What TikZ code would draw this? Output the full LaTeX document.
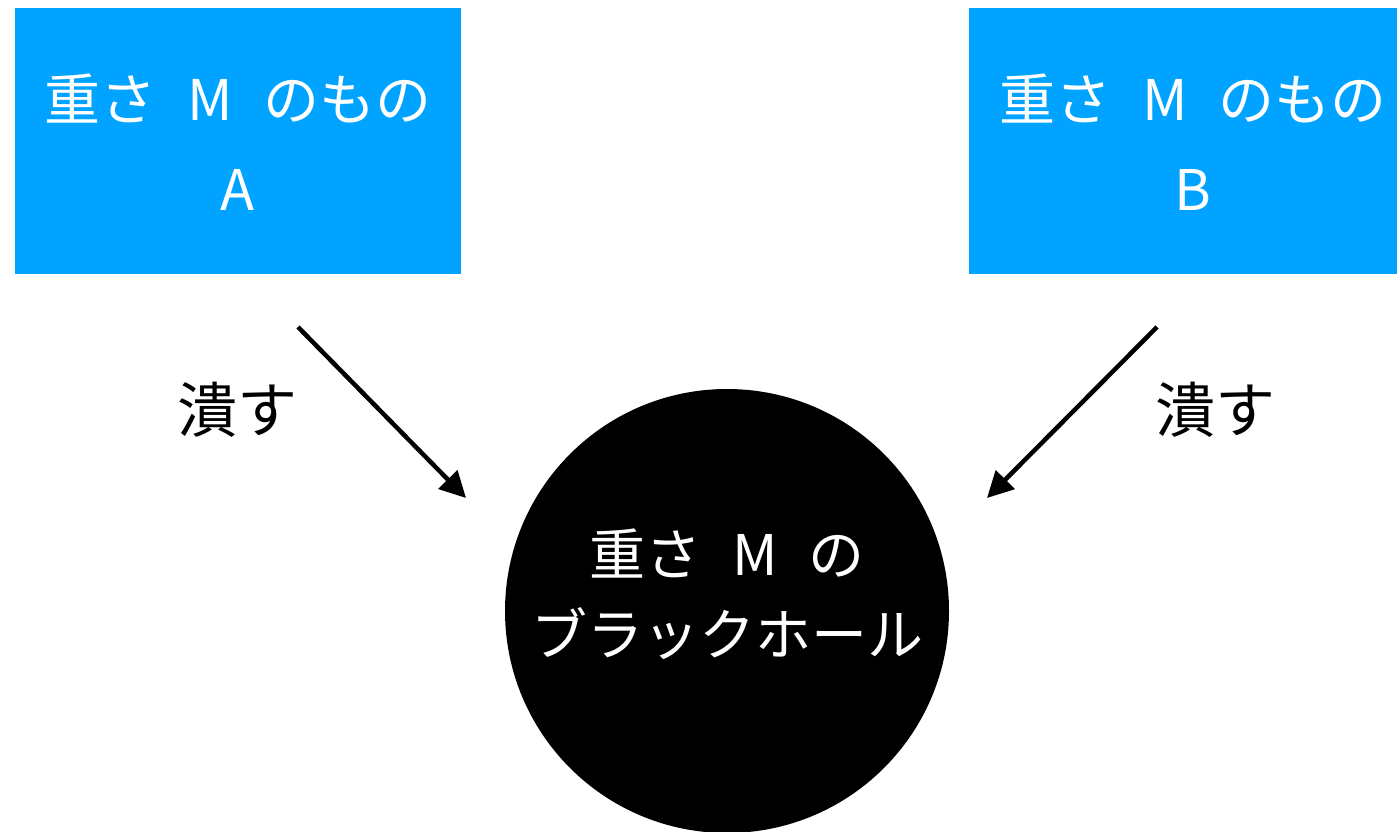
\documentclass[tikz,border=0pt]{standalone}
\usepackage{fontspec}
\setmainfont{Noto Sans CJK JP}
\usetikzlibrary{arrows.meta}
\definecolor{boxblue}{HTML}{00A3FF}
\newcommand{\wsp}{\hspace{0.55em}}
\tikzset{
  massbox/.style={fill=boxblue, draw=none, minimum width=446pt, minimum height=266pt, inner sep=0pt},
  boxtext/.style={text=white, align=center, font=\fontsize{56}{90}\selectfont},
  bhtext/.style={text=white, align=center, font=\fontsize{56}{80}\selectfont},
  crushlabel/.style={text=black, font=\fontsize{60}{70}\selectfont},
  crusharrow/.style={line width=4.5pt, -{Triangle[length=26pt,width=26pt]}},
}
\begin{document}
\begin{tikzpicture}[x=1pt,y=-1pt]
\useasboundingbox (0,0) rectangle (1397,832);
\node[massbox] (A) at (238,141) {};
\node[massbox, minimum width=428pt] (B) at (1183,141) {};
\node[boxtext] (Atext) at (238,142) {重さ\wsp M\wsp のもの\\A};
\node[boxtext] (Btext) at (1193,142) {重さ\wsp M\wsp のもの\\B};
\begin{scope}
\clip (0,0) rectangle (1397,832);
\node[circle, fill=black, minimum size=444pt, inner sep=0pt] (BH) at (727,611) {};
\end{scope}
\node[bhtext] (BHtext) at (727,594) {重さ\wsp M\wsp の\\ブラックホール};
\coordinate (a1s) at (298,327);
\coordinate (a1e) at (466,498);
\coordinate (a2s) at (1157,327);
\coordinate (a2e) at (987,498);
\draw[crusharrow] (a1s) -- (a1e);
\draw[crusharrow] (a2s) -- (a2e);
\node[crushlabel] (L1) at (237,410) {潰す};
\node[crushlabel] (L2) at (1215,410) {潰す};
\end{tikzpicture}
\end{document}
